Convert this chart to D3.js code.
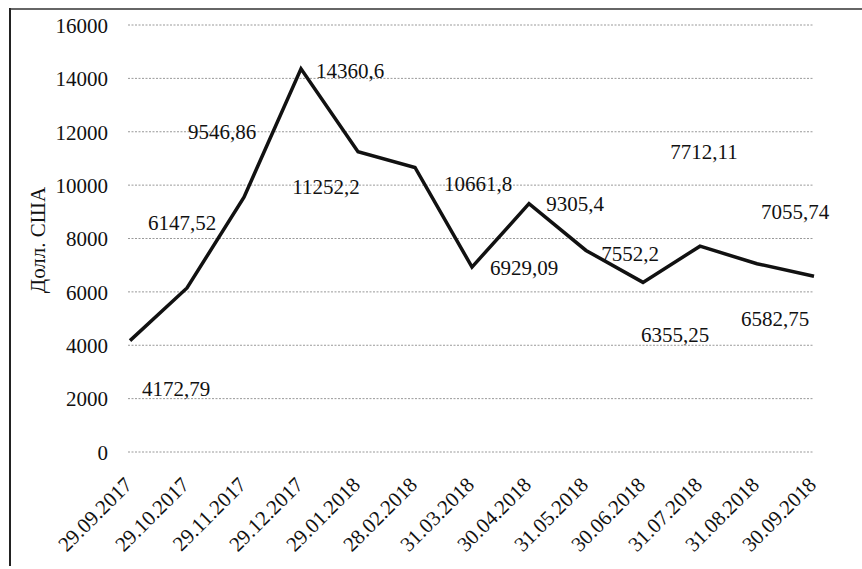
<!DOCTYPE html>
<html>
<head>
<meta charset="utf-8">
<script src="https://cdn.jsdelivr.net/npm/d3@7"></script>
<style>
  html, body { margin: 0; padding: 0; background: #fff; }
  svg { display: block; }
  text { font-family: "Liberation Serif", "Times New Roman", serif; fill: #111; }
</style>
</head>
<body>
<svg id="chart" width="862" height="569"></svg>
<script>
// ---- data ----
const categories = ["29.09.2017","29.10.2017","29.11.2017","29.12.2017","29.01.2018","28.02.2018",
  "31.03.2018","30.04.2018","31.05.2018","30.06.2018","31.07.2018","31.08.2018","30.09.2018"];
const values = [4172.79, 6147.52, 9546.86, 14360.6, 11252.2, 10661.8, 6929.09,
  9305.4, 7552.2, 6355.25, 7712.11, 7055.74, 6582.75];
const valueLabels = ["4172,79","6147,52","9546,86","14360,6","11252,2","10661,8","6929,09",
  "9305,4","7552,2","6355,25","7712,11","7055,74","6582,75"];
const yTicks = [0, 2000, 4000, 6000, 8000, 10000, 12000, 14000, 16000];
const yTitle = "Долл. США";

// manual label placement (pixel offsets from each point, as moved in the source)
const labelOffsets = [[46,48],[-5,-65],[-22,-66],[49,2],[-32,35],[63,16],[52,1],
  [46,0],[44,3],[32,52],[4,-95],[38,-52],[-39,42]];

(function () {
const svg = d3.select("#chart");
const pLeft = 128, pRight = 814, pTop = 25, pBottom = 452;

const x = d3.scalePoint().domain(categories).range([130, pRight]);
const y = d3.scaleLinear().domain([0, 16000]).range([pBottom, pTop]);

// frame (scanned page border)
svg.append("line").attr("x1", 10).attr("x2", 10).attr("y1", 8).attr("y2", 566)
  .attr("stroke", "#222").attr("stroke-width", 2);
svg.append("line").attr("x1", 10).attr("x2", 862).attr("y1", 9).attr("y2", 9)
  .attr("stroke", "#333").attr("stroke-width", 1.5);

// gridlines
svg.append("g").selectAll("line").data(yTicks).join("line")
  .attr("x1", pLeft).attr("x2", pRight)
  .attr("y1", d => y(d)).attr("y2", d => y(d))
  .attr("stroke", "#999").attr("stroke-width", 1)
  .attr("stroke-dasharray", "2,1.5");

// y axis labels
const yAxis = d3.axisLeft(y).tickValues(yTicks).tickSize(0).tickPadding(0).tickFormat(d3.format("d"));
const gy = svg.append("g").attr("transform", `translate(108,0)`).call(yAxis);
gy.select(".domain").remove();
gy.selectAll("text").attr("font-size", 21).attr("font-family", "Liberation Serif").attr("fill", "#111")
  .attr("dy", "0.35em");

// x axis labels
const xAxis = d3.axisBottom(x).tickSize(0).tickPadding(0);
const gx = svg.append("g").attr("transform", `translate(0,${pBottom})`).call(xAxis);
gx.select(".domain").remove();
gx.selectAll("text")
  .attr("font-size", 21).attr("font-family", "Liberation Serif").attr("fill", "#111")
  .attr("text-anchor", "end")
  .attr("dy", null).attr("y", 0)
  .attr("transform", "translate(3,34) rotate(-45)");

// y title
svg.append("text")
  .attr("transform", "translate(45,240) rotate(-90)")
  .attr("text-anchor", "middle")
  .attr("font-size", 21)
  .text(yTitle);

// line
const line = d3.line().x((d, i) => x(categories[i])).y(d => y(d));
svg.append("path").datum(values)
  .attr("d", line)
  .attr("fill", "none").attr("stroke", "#111").attr("stroke-width", 3.5)
  .attr("stroke-linejoin", "miter");

// data labels
svg.append("g").selectAll("text").data(values).join("text")
  .attr("x", (d, i) => x(categories[i]) + labelOffsets[i][0])
  .attr("y", (d, i) => y(d) + labelOffsets[i][1])
  .attr("dy", "0.35em")
  .attr("text-anchor", "middle")
  .attr("font-size", 21)
  .text((d, i) => valueLabels[i]);
})();
</script>
</body>
</html>
